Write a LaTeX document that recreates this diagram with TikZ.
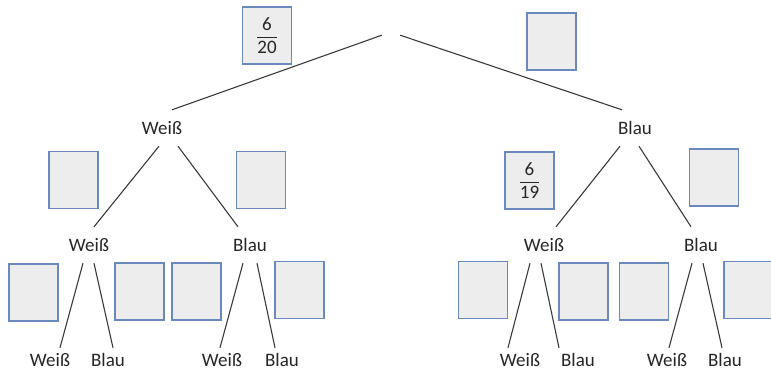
\documentclass[tikz,border=0pt]{standalone}
\usepackage{amsmath}
\usepackage{fontspec}
\setmainfont{Carlito}
\definecolor{boxblue}{HTML}{6A89BC}
\definecolor{boxgray}{HTML}{EDEDED}
\definecolor{linegray}{HTML}{3A3A3A}

\begin{document}
\begin{tikzpicture}[x=1pt,
            y=-1pt,
            font=\fontsize{19}{22}\selectfont,
            lbl/.style={inner sep=0pt, minimum height=36pt, text=black!85},
            leaf/.style={lbl, minimum height=24pt},
            blank/.style={draw=boxblue, fill=boxgray, line width=1.1pt,
                          minimum width=49pt, minimum height=57pt, inner sep=0pt,
                          text=black!85},
            branch/.style={draw=linegray, line width=1.1pt}]

        \useasboundingbox (0,0) rectangle (771,370);

        % tree labels
        \node[inner sep=0pt, minimum width=18pt, minimum height=8pt] (0) at (391,31) {};
        \node[lbl]  (w)   at (162,128) {Weiß};
        \node[lbl]  (b)   at (635,128) {Blau};
        \node[lbl]  (ww)  at (89,245)  {Weiß};
        \node[lbl]  (wb)  at (250,245) {Blau};
        \node[lbl]  (bw)  at (544,245) {Weiß};
        \node[lbl]  (bb)  at (701,245) {Blau};
        \node[leaf] (www) at (50,360)  {Weiß};
        \node[leaf] (wwb) at (108,360) {Blau};
        \node[leaf] (wbw) at (222,360) {Weiß};
        \node[leaf] (wbb) at (282,360) {Blau};
        \node[leaf] (bww) at (520,360) {Weiß};
        \node[leaf] (bwb) at (578,360) {Blau};
        \node[leaf] (bbw) at (667,360) {Weiß};
        \node[leaf] (bbb) at (725,360) {Blau};

        \path[branch] (0.south west)      edge ([xshift=10pt]w.north)
                      (0.south east)      edge ([xshift=-13pt]b.north)
                      ([xshift=-3pt]w.south)  edge ([xshift=5pt]ww.north)
                      ([xshift=16pt]w.south)  edge ([xshift=-12pt]wb.north)
                      ([xshift=-15pt]b.south) edge ([xshift=12pt]bw.north)
                      ([xshift=4pt]b.south)   edge ([xshift=-10pt]bb.north)
                      ([xshift=-6pt]ww.south) edge ([xshift=10pt]www.north)
                      ([xshift=5pt]ww.south)  edge ([xshift=5pt]wwb.north)
                      ([xshift=-7pt]wb.south) edge ([xshift=-2pt]wbw.north)
                      ([xshift=7pt]wb.south)  edge ([xshift=-7pt]wbb.north)
                      ([xshift=-14pt]bw.south) edge ([xshift=-12pt]bww.north)
                      ([xshift=-3pt]bw.south) edge ([xshift=-19pt]bwb.north)
                      ([xshift=-9pt]bb.south) edge ([xshift=2pt]bbw.north)
                      ([xshift=2pt]bb.south)  edge ([xshift=-3pt]bbb.north);

        % answer boxes
        \node[blank] (p1)  at (267,35.5)   {$\dfrac{\text{6}}{\text{20}}$};
        \node[blank] (p2)  at (551.5,41.5) {};
        \node[blank] (pw1) at (73.5,180)   {};
        \node[blank] (pw2) at (261,180)    {};
        \node[blank] (pb1) at (529.5,180.5) {$\dfrac{\text{6}}{\text{19}}$};
        \node[blank] (pb2) at (714,177.5)  {};
        \node[blank] (q1)  at (33.5,292.5) {};
        \node[blank] (q2)  at (139.5,291.5) {};
        \node[blank] (q3)  at (196.5,291.5) {};
        \node[blank] (q4)  at (299.5,290)  {};
        \node[blank] (q5)  at (483,290)    {};
        \node[blank] (q6)  at (583.5,291.5) {};
        \node[blank] (q7)  at (644,291.5)  {};
        \node[blank] (q8)  at (748.5,290)  {};

\end{tikzpicture}
\end{document}
